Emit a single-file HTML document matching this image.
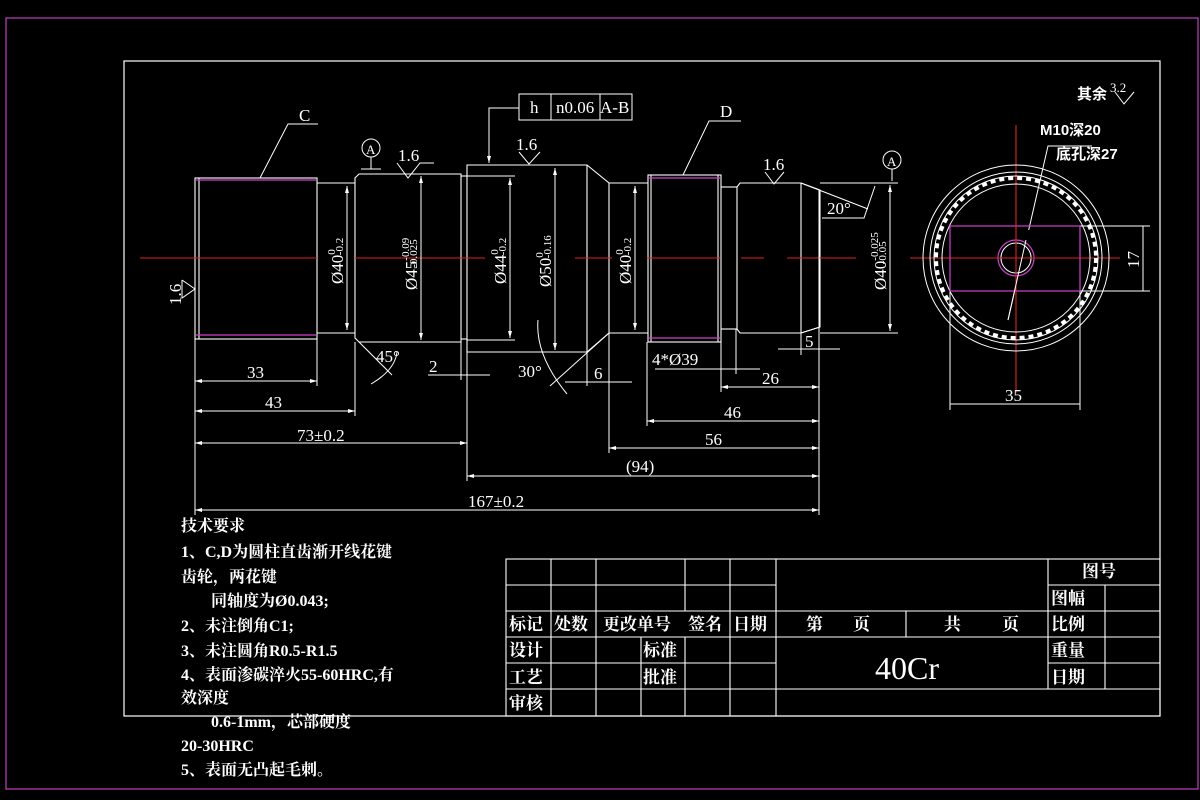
<!DOCTYPE html>
<html><head><meta charset="utf-8"><style>
html,body{margin:0;padding:0;background:#000;}
svg{display:block}
text{font-family:"Liberation Serif","Noto Serif CJK SC","Noto Sans CJK SC",serif;fill:#fff}
.cn{font-family:"Liberation Sans","Noto Sans CJK SC",sans-serif;font-weight:bold}
</style></head><body>
<svg width="1200" height="800" viewBox="0 0 1200 800" xmlns="http://www.w3.org/2000/svg">
<rect width="1200" height="800" fill="#000"/>
<rect x="6" y="18" width="1192" height="771" fill="none" stroke="#c040c0" stroke-width="1.2"/>
<rect x="124" y="61" width="1036" height="655" fill="none" stroke="#fff" stroke-width="1.2"/>

<g stroke="#fff" stroke-width="1.1" fill="none">
<rect x="195" y="178" width="122" height="161"/>
<line x1="199" y1="178" x2="199" y2="339"/>
<line x1="317" y1="183" x2="355" y2="183"/><line x1="317" y1="333" x2="355" y2="333"/>
<path d="M359 174 H461 V342 H359 L355 338 V178 Z"/>
<line x1="461" y1="176" x2="467" y2="176"/><line x1="461" y1="339" x2="467" y2="339"/>
<path d="M467 165 H587 L609 183 V333 L587 352 H467 Z"/>
<line x1="587" y1="165" x2="587" y2="352"/>
<line x1="467" y1="176" x2="515" y2="176"/><line x1="467" y1="340" x2="515" y2="340"/>
<line x1="609" y1="183" x2="648" y2="183"/><line x1="609" y1="333" x2="648" y2="333"/>
<rect x="648" y="175" width="73" height="167"/>
<line x1="651" y1="175" x2="651" y2="342"/><line x1="718" y1="175" x2="718" y2="342"/>
<line x1="721" y1="187" x2="737" y2="187"/><line x1="721" y1="329" x2="737" y2="329"/>
<line x1="737" y1="187" x2="737" y2="329"/>
<path d="M737 187 L740 183 H801 L820 190 V327 L801 333 H740 L737 329"/>
<line x1="801" y1="183" x2="801" y2="333"/>
</g>
<g stroke="#d040d0" stroke-width="1.3">
<line x1="196" y1="180" x2="316" y2="180"/><line x1="196" y1="335" x2="316" y2="335"/>
<line x1="649" y1="178" x2="720" y2="178"/><line x1="649" y1="338" x2="720" y2="338"/>
</g>
<g stroke="#e02020" stroke-width="1.1">
<line x1="140" y1="258" x2="317" y2="258"/><line x1="355" y1="258" x2="485" y2="258"/>
<line x1="575" y1="258" x2="612" y2="258"/><line x1="647" y1="258" x2="720" y2="258"/>
<line x1="741" y1="258" x2="764" y2="258"/><line x1="787" y1="258" x2="856" y2="258"/>
<line x1="910" y1="258" x2="1120" y2="258"/>
<line x1="1016" y1="125" x2="1016" y2="393"/>
</g>

<g stroke="#fff" stroke-width="1" fill="none">
<line x1="347" y1="186" x2="347" y2="330"/>
<line x1="421" y1="176" x2="421" y2="340"/>
<line x1="510" y1="178" x2="510" y2="338"/>
<line x1="555" y1="168" x2="555" y2="350"/>
<line x1="635" y1="186" x2="635" y2="330"/>
<line x1="890" y1="185" x2="890" y2="331"/>
<line x1="820" y1="183" x2="898" y2="183"/><line x1="820" y1="333" x2="898" y2="333"/>
<line x1="195" y1="339" x2="195" y2="515"/>
<line x1="317" y1="339" x2="317" y2="386"/>
<line x1="355" y1="342" x2="355" y2="416"/>
<line x1="461" y1="342" x2="461" y2="380"/>
<line x1="467" y1="352" x2="467" y2="481"/>
<line x1="587" y1="352" x2="587" y2="386"/>
<line x1="609" y1="333" x2="609" y2="453"/>
<line x1="647" y1="342" x2="647" y2="426"/>
<line x1="721" y1="342" x2="721" y2="392"/>
<line x1="736" y1="329" x2="736" y2="374"/>
<line x1="801" y1="333" x2="801" y2="355"/>
<line x1="819" y1="190" x2="819" y2="515"/>
<line x1="195" y1="381" x2="317" y2="381"/>
<line x1="195" y1="411" x2="355" y2="411"/>
<line x1="195" y1="443" x2="467" y2="443"/>
<line x1="467" y1="476" x2="819" y2="476"/>
<line x1="195" y1="510" x2="819" y2="510"/>
<line x1="647" y1="421" x2="819" y2="421"/>
<line x1="609" y1="448" x2="819" y2="448"/>
<line x1="721" y1="387" x2="819" y2="387"/>
<line x1="655" y1="369" x2="760" y2="369"/>
<line x1="565" y1="382" x2="632" y2="382"/>
<line x1="428" y1="375" x2="490" y2="375"/>
<line x1="778" y1="349" x2="840" y2="349"/>
<line x1="359" y1="342" x2="392" y2="375"/>
<path d="M371 384 Q395 370 397 352"/>
<line x1="609" y1="333" x2="550" y2="386"/>
<path d="M538 320 Q535 355 567 394"/>
<line x1="801" y1="183" x2="868" y2="209"/>
<polyline points="822,218 864,218 875,186"/>
<line x1="801" y1="333" x2="820" y2="327"/>
<polyline points="318,124 288,124 260,178"/>
<polyline points="741,121 709,121 683,175"/>
<polyline points="519,108 489,108 489,163"/>
<circle cx="371" cy="148" r="9"/><line x1="371" y1="157" x2="371" y2="169"/><line x1="361" y1="169" x2="381" y2="169"/>
<circle cx="892" cy="160" r="9"/><line x1="892" y1="169" x2="892" y2="181"/>
<polyline points="397,163 408,178 420,163 434,163"/>
<polyline points="519,152 529,164 540,152"/>
<polyline points="765,172 774,184 784,172"/>
<polyline points="1115,92 1124,104 1134,92"/>
<polyline points="182,280 195,289 182,298 182,280"/>
<rect x="519" y="94" width="113" height="26"/>
<line x1="551" y1="94" x2="551" y2="120"/><line x1="600" y1="94" x2="600" y2="120"/>
</g>
<g fill="#fff">
<polygon points="195,381 202,379 202,383"/><polygon points="317,381 310,379 310,383"/>
<polygon points="195,411 202,409 202,413"/><polygon points="355,411 348,409 348,413"/>
<polygon points="195,443 202,441 202,445"/><polygon points="467,443 460,441 460,445"/>
<polygon points="467,476 474,474 474,478"/><polygon points="819,476 812,474 812,478"/>
<polygon points="195,510 202,508 202,512"/><polygon points="819,510 812,508 812,512"/>
<polygon points="647,421 654,419 654,423"/><polygon points="819,421 812,419 812,423"/>
<polygon points="609,448 616,446 616,450"/><polygon points="819,448 812,446 812,450"/>
<polygon points="721,387 728,385 728,389"/><polygon points="819,387 812,385 812,389"/>
<polygon points="347,186 345,193 349,193"/><polygon points="347,330 345,323 349,323"/>
<polygon points="421,176 419,183 423,183"/><polygon points="421,340 419,333 423,333"/>
<polygon points="510,178 508,185 512,185"/><polygon points="510,338 508,331 512,331"/>
<polygon points="555,168 553,175 557,175"/><polygon points="555,350 553,343 557,343"/>
<polygon points="635,186 633,193 637,193"/><polygon points="635,330 633,323 637,323"/>
<polygon points="890,185 888,192 892,192"/><polygon points="890,331 888,324 892,324"/>
<polygon points="489,163 487,156 491,156"/>
</g>

<g stroke="#fff" stroke-width="1" fill="none">
<circle cx="1016" cy="258" r="93"/>
<circle cx="1016" cy="258" r="86"/>
<circle cx="1016" cy="258" r="82"/>
<circle cx="1016" cy="258" r="80" stroke-dasharray="5 4" stroke-width="4"/>
<circle cx="1016" cy="258" r="74"/>
<circle cx="1016" cy="258" r="15"/>
<line x1="1080" y1="226" x2="1150" y2="226"/><line x1="1080" y1="291" x2="1150" y2="291"/>
<line x1="1143" y1="226" x2="1143" y2="291"/>
<line x1="950" y1="291" x2="950" y2="410"/><line x1="1080" y1="291" x2="1080" y2="410"/>
<line x1="950" y1="404" x2="1080" y2="404"/>
<polyline points="1008,320 1048,146 1092,146"/>
</g>
<rect x="1001" y="230" width="30" height="56" fill="#000"/>
<circle cx="1016" cy="258" r="15" fill="none" stroke="#fff"/>
<g fill="none" stroke="#d040d0" stroke-width="1.2">
<rect x="950" y="226" width="130" height="65"/>
<circle cx="1016" cy="258" r="18"/>
</g>
<g stroke="#e02020" stroke-width="1.1"><line x1="1016" y1="226" x2="1016" y2="291"/><line x1="990" y1="258" x2="1040" y2="258"/></g>
<line x1="1008" y1="320" x2="1026" y2="240" stroke="#fff"/>

<g font-size="17">
<text x="299" y="121">C</text>
<text x="720" y="117">D</text>
<text x="366" y="154" font-size="13">A</text>
<text x="887" y="166" font-size="13">A</text>
<text x="398" y="161">1.6</text>
<text x="516" y="150">1.6</text>
<text x="763" y="170">1.6</text>
<text x="530" y="113">h</text>
<text x="556" y="113">n0.06</text><text x="600" y="113">A-B</text>
<text x="247" y="378">33</text>
<text x="265" y="408">43</text>
<text x="297" y="441">73±0.2</text>
<text x="468" y="507">167±0.2</text>
<text x="626" y="472">(94)</text>
<text x="724" y="418">46</text>
<text x="705" y="445">56</text>
<text x="762" y="384">26</text>
<text x="652" y="365">4*Ø39</text>
<text x="594" y="379">6</text>
<text x="429" y="372">2</text>
<text x="805" y="347">5</text>
<text x="376" y="362">45°</text>
<text x="518" y="377">30°</text>
<text x="827" y="214">20°</text>
<text x="1005" y="401">35</text>
<text transform="translate(1139,268) rotate(-90)">17</text>
<text transform="translate(181,305) rotate(-90)">1.6</text>
<text transform="translate(343,284) rotate(-90)">Ø40<tspan font-size="11" dy="-8">0</tspan><tspan font-size="11" dx="-6" dy="8">-0.2</tspan></text>
<text transform="translate(417,290) rotate(-90)">Ø45<tspan font-size="11" dy="-8">-0.09</tspan><tspan font-size="11" dx="-30" dy="8">-0.025</tspan></text>
<text transform="translate(506,284) rotate(-90)">Ø44<tspan font-size="11" dy="-8">0</tspan><tspan font-size="11" dx="-6" dy="8">-0.2</tspan></text>
<text transform="translate(551,287) rotate(-90)">Ø50<tspan font-size="11" dy="-8">0</tspan><tspan font-size="11" dx="-6" dy="8">-0.16</tspan></text>
<text transform="translate(631,284) rotate(-90)">Ø40<tspan font-size="11" dy="-8">0</tspan><tspan font-size="11" dx="-6" dy="8">-0.2</tspan></text>
<text transform="translate(886,290) rotate(-90)">Ø40<tspan font-size="11" dy="-8">-0.025</tspan><tspan font-size="11" dx="-32" dy="8">-0.05</tspan></text>
<text x="1040" y="135" class="cn" font-size="15">M10深20</text>
<text x="1056" y="159" class="cn" font-size="15">底孔深27</text>
<text x="1077" y="99" class="cn" font-size="15">其余</text><text x="1110" y="92" font-size="13">3.2</text>
</g>

<g class="cn" font-size="16">
<text x="181" y="531">技术要求</text>
<text x="181" y="557">1、C,D为圆柱直齿渐开线花键</text>
<text x="181" y="582">齿轮，两花键</text>
<text x="211" y="606">同轴度为Ø0.043;</text>
<text x="181" y="631">2、未注倒角C1;</text>
<text x="181" y="656">3、未注圆角R0.5-R1.5</text>
<text x="181" y="680">4、表面渗碳淬火55-60HRC,有</text>
<text x="181" y="703">效深度</text>
<text x="211" y="727">0.6-1mm，芯部硬度</text>
<text x="181" y="751">20-30HRC</text>
<text x="181" y="775">5、表面无凸起毛刺。</text>
</g>

<g stroke="#fff" stroke-width="1.1" fill="none">
<rect x="506" y="559" width="654" height="157"/>
<line x1="506" y1="585" x2="776" y2="585"/>
<line x1="506" y1="611" x2="1160" y2="611"/>
<line x1="506" y1="637" x2="1160" y2="637"/>
<line x1="506" y1="663" x2="776" y2="663"/>
<line x1="506" y1="689" x2="1160" y2="689"/>
<line x1="1048" y1="585" x2="1160" y2="585"/>
<line x1="1048" y1="663" x2="1160" y2="663"/>
<line x1="551" y1="559" x2="551" y2="716"/>
<line x1="596" y1="559" x2="596" y2="716"/>
<line x1="641" y1="637" x2="641" y2="716"/>
<line x1="685" y1="559" x2="685" y2="611"/><line x1="685" y1="637" x2="685" y2="716"/>
<line x1="730" y1="559" x2="730" y2="716"/>
<line x1="776" y1="559" x2="776" y2="716"/>
<line x1="906" y1="611" x2="906" y2="637"/>
<line x1="1048" y1="559" x2="1048" y2="689"/>
<line x1="1105" y1="585" x2="1105" y2="689"/>
</g>
<g class="cn" font-size="17">
<text x="1082" y="577">图号</text>
<text x="1051" y="604">图幅</text>
<text x="509" y="630">标记</text><text x="554" y="630">处数</text><text x="603" y="630">更改单号</text>
<text x="688" y="630">签名</text><text x="733" y="630">日期</text>
<text x="806" y="630">第</text><text x="853" y="630">页</text>
<text x="944" y="630">共</text><text x="1002" y="630">页</text>
<text x="1051" y="630">比例</text>
<text x="509" y="656">设计</text><text x="643" y="656">标准</text>
<text x="1051" y="656">重量</text>
<text x="509" y="683">工艺</text><text x="643" y="683">批准</text>
<text x="1051" y="683">日期</text>
<text x="509" y="709">审核</text>
</g>
<text x="875" y="679" font-size="32">40Cr</text>
</svg>
</body></html>
